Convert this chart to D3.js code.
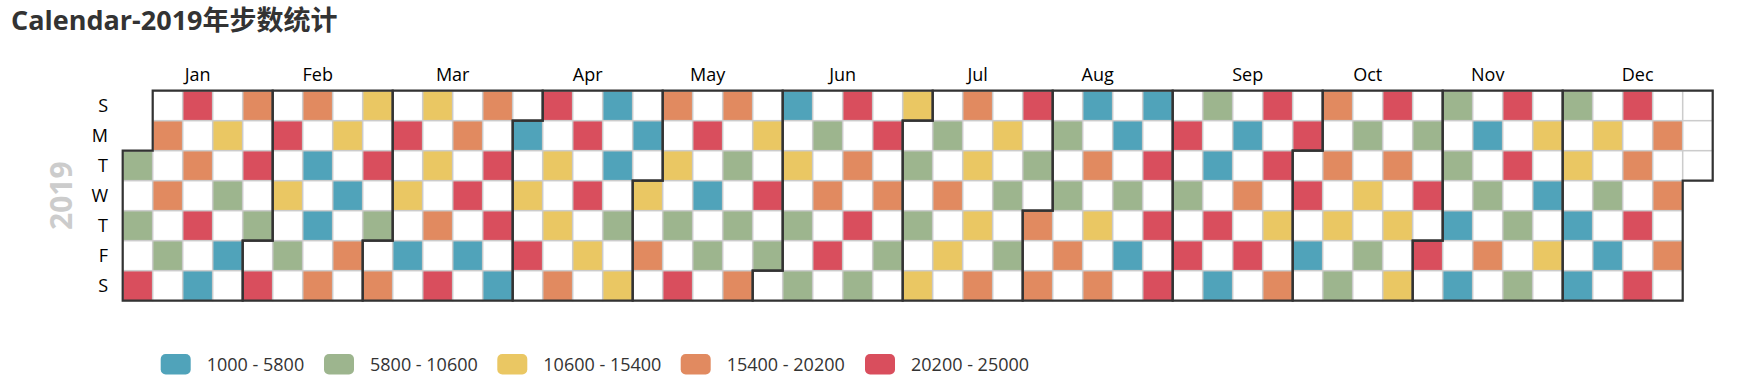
<!DOCTYPE html>
<html>
<head>
<meta charset="utf-8">
<script src="https://cdn.jsdelivr.net/npm/d3@7"></script>
<style>
  body { margin: 0; background: #fff; }
  text { font-family: "Open Sans", "Noto Sans CJK SC", sans-serif; }
</style>
</head>
<body>
<svg id="chart"></svg>
<script>
const _ = null;
const year = 2019;
const monthNames = ['Jan', 'Feb', 'Mar', 'Apr', 'May', 'Jun', 'Jul', 'Aug', 'Sep', 'Oct', 'Nov', 'Dec'];
const dayNames = ['S', 'M', 'T', 'W', 'T', 'F', 'S'];
const pieceLabels = ['1000 - 5800', '5800 - 10600', '10600 - 15400', '15400 - 20200', '20200 - 25000'];
const pieceBreaks = [5800, 10600, 15400, 20200];
const pieceColors = ['#50a3ba', '#9db58e', '#eac763', '#e18a60', '#d94e5d'];

// steps per day (null = no record that day)
const jan = [8200,_,8200,_,22600,_,17800,_,17800,_,8200,_,22600,_,17800,_,22600,_,3400,_,13000,_,8200,_,3400,_,17800,_,22600,_,8200];
const feb = [_,22600,_,22600,_,13000,_,8200,_,17800,_,3400,_,3400,_,17800,_,13000,_,3400,_,17800,_,13000,_,22600,_,8200];
const mar = [_,17800,_,22600,_,13000,_,3400,_,13000,_,13000,_,17800,_,22600,_,17800,_,22600,_,3400,_,17800,_,22600,_,22600,_,3400,_];
const apr = [3400,_,13000,_,22600,_,22600,_,13000,_,13000,_,17800,_,22600,_,22600,_,13000,_,3400,_,3400,_,8200,_,13000,_,3400,_];
const may = [13000,_,17800,_,17800,_,13000,_,8200,_,22600,_,22600,_,3400,_,8200,_,17800,_,8200,_,8200,_,17800,_,13000,_,22600,_,8200];
const jun = [_,3400,_,13000,_,8200,_,8200,_,8200,_,17800,_,22600,_,22600,_,17800,_,22600,_,8200,_,22600,_,17800,_,8200,_,13000];
const jul = [_,8200,_,8200,_,13000,_,8200,_,17800,_,13000,_,17800,_,13000,_,13000,_,17800,_,13000,_,8200,_,8200,_,22600,_,8200,_];
const aug = [17800,_,17800,_,8200,_,8200,_,17800,_,3400,_,17800,_,13000,_,17800,_,3400,_,8200,_,3400,_,3400,_,22600,_,22600,_,22600];
const sep = [_,22600,_,8200,_,22600,_,8200,_,3400,_,22600,_,3400,_,3400,_,17800,_,22600,_,22600,_,22600,_,13000,_,17800,_,22600];
const oct = [_,22600,_,3400,_,17800,_,17800,_,13000,_,8200,_,8200,_,13000,_,8200,_,22600,_,17800,_,13000,_,13000,_,8200,_,22600,_];
const nov = [22600,_,8200,_,8200,_,3400,_,3400,_,3400,_,8200,_,17800,_,22600,_,22600,_,8200,_,8200,_,13000,_,3400,_,13000,_];
const dec = [8200,_,13000,_,3400,_,3400,_,13000,_,8200,_,3400,_,22600,_,17800,_,22600,_,22600,_,17800,_,17800,_,17800,_,_,_,_];
const months = [jan, feb, mar, apr, may, jun, jul, aug, sep, oct, nov, dec];

const width = 1742;
const height = 389;
const cell = 30;
const calLeft = 122.7;
const calTop = 90.7;
const legendX = [160.7, 324, 497.3, 680.7, 865];

const svg = d3.select('#chart')
  .attr('width', width)
  .attr('height', height);

const days = [];
months.forEach((vals, m) => {
  vals.forEach((v, i) => days.push({ date: new Date(year, m, i + 1), value: v }));
});

const weekOf = d => d3.timeWeek.count(d3.timeYear(d), d);

const xScale = d3.scaleLinear().domain([0, 53]).range([calLeft, calLeft + 53 * cell]);
const yScale = d3.scaleBand().domain(d3.range(7)).range([calTop, calTop + 7 * cell]);
const color = d3.scaleThreshold().domain(pieceBreaks).range(pieceColors);

// title
svg.append('text')
  .attr('x', 11)
  .attr('y', 30)
  .style('font-size', '27px')
  .style('font-weight', 'bold')
  .style('fill', '#333')
  .text('Calendar-2019年步数统计');

// day cells
svg.append('g')
  .selectAll('rect')
  .data(days)
  .enter()
  .append('rect')
  .attr('x', d => xScale(weekOf(d.date)))
  .attr('y', d => yScale(d.date.getDay()))
  .attr('width', cell)
  .attr('height', yScale.bandwidth())
  .attr('fill', d => d.value == null ? '#fff' : color(d.value))
  .attr('stroke', '#ccc')
  .attr('stroke-width', 1.5);

// month outlines
function monthPath(m) {
  const t0 = new Date(year, m, 1);
  const t1 = new Date(year, m + 1, 0);
  const d0 = t0.getDay(), w0 = weekOf(t0);
  const d1 = t1.getDay(), w1 = weekOf(t1);
  return 'M' + xScale(w0 + 1) + ',' + yScale(d0) +
    'H' + xScale(w0) + 'V' + (calTop + 7 * cell) +
    'H' + xScale(w1) + 'V' + (yScale(d1) + cell) +
    'H' + xScale(w1 + 1) + 'V' + calTop +
    'H' + xScale(w0 + 1) + 'Z';
}

svg.append('g')
  .selectAll('path')
  .data(d3.range(12))
  .enter()
  .append('path')
  .attr('d', monthPath)
  .attr('fill', 'none')
  .attr('stroke', '#333')
  .attr('stroke-width', 2.2);

// month labels
svg.append('g')
  .selectAll('text')
  .data(d3.range(12))
  .enter()
  .append('text')
  .attr('x', m => {
    const w0 = weekOf(new Date(year, m, 1));
    const w1 = weekOf(new Date(year, m + 1, 0));
    return xScale((w0 + w1 + 1) / 2);
  })
  .attr('y', 81)
  .style('text-anchor', 'middle')
  .style('font-size', '18px')
  .style('fill', '#000')
  .text(m => monthNames[m]);

// day labels
svg.append('g')
  .selectAll('text')
  .data(dayNames)
  .enter()
  .append('text')
  .attr('x', 108)
  .attr('y', (d, i) => yScale(i) + cell / 2)
  .attr('dy', '0.35em')
  .style('text-anchor', 'end')
  .style('font-size', '18px')
  .style('fill', '#000')
  .text(d => d);

// year label
svg.append('text')
  .attr('transform', `translate(72, ${calTop + 3.5 * cell}) rotate(-90)`)
  .style('text-anchor', 'middle')
  .style('font-size', '30px')
  .style('font-weight', 'bold')
  .style('fill', '#ccc')
  .text(year);

// legend
const legend = svg.append('g')
  .selectAll('g')
  .data(pieceLabels)
  .enter()
  .append('g')
  .attr('transform', (d, i) => `translate(${legendX[i]}, 354)`);

legend.append('rect')
  .attr('width', 30)
  .attr('height', 20.5)
  .attr('rx', 5)
  .attr('fill', (d, i) => pieceColors[i]);

legend.append('text')
  .attr('x', 46)
  .attr('y', 10.5)
  .attr('dy', '0.35em')
  .style('font-size', '18px')
  .style('fill', '#333')
  .text(d => d);
</script>
</body>
</html>
